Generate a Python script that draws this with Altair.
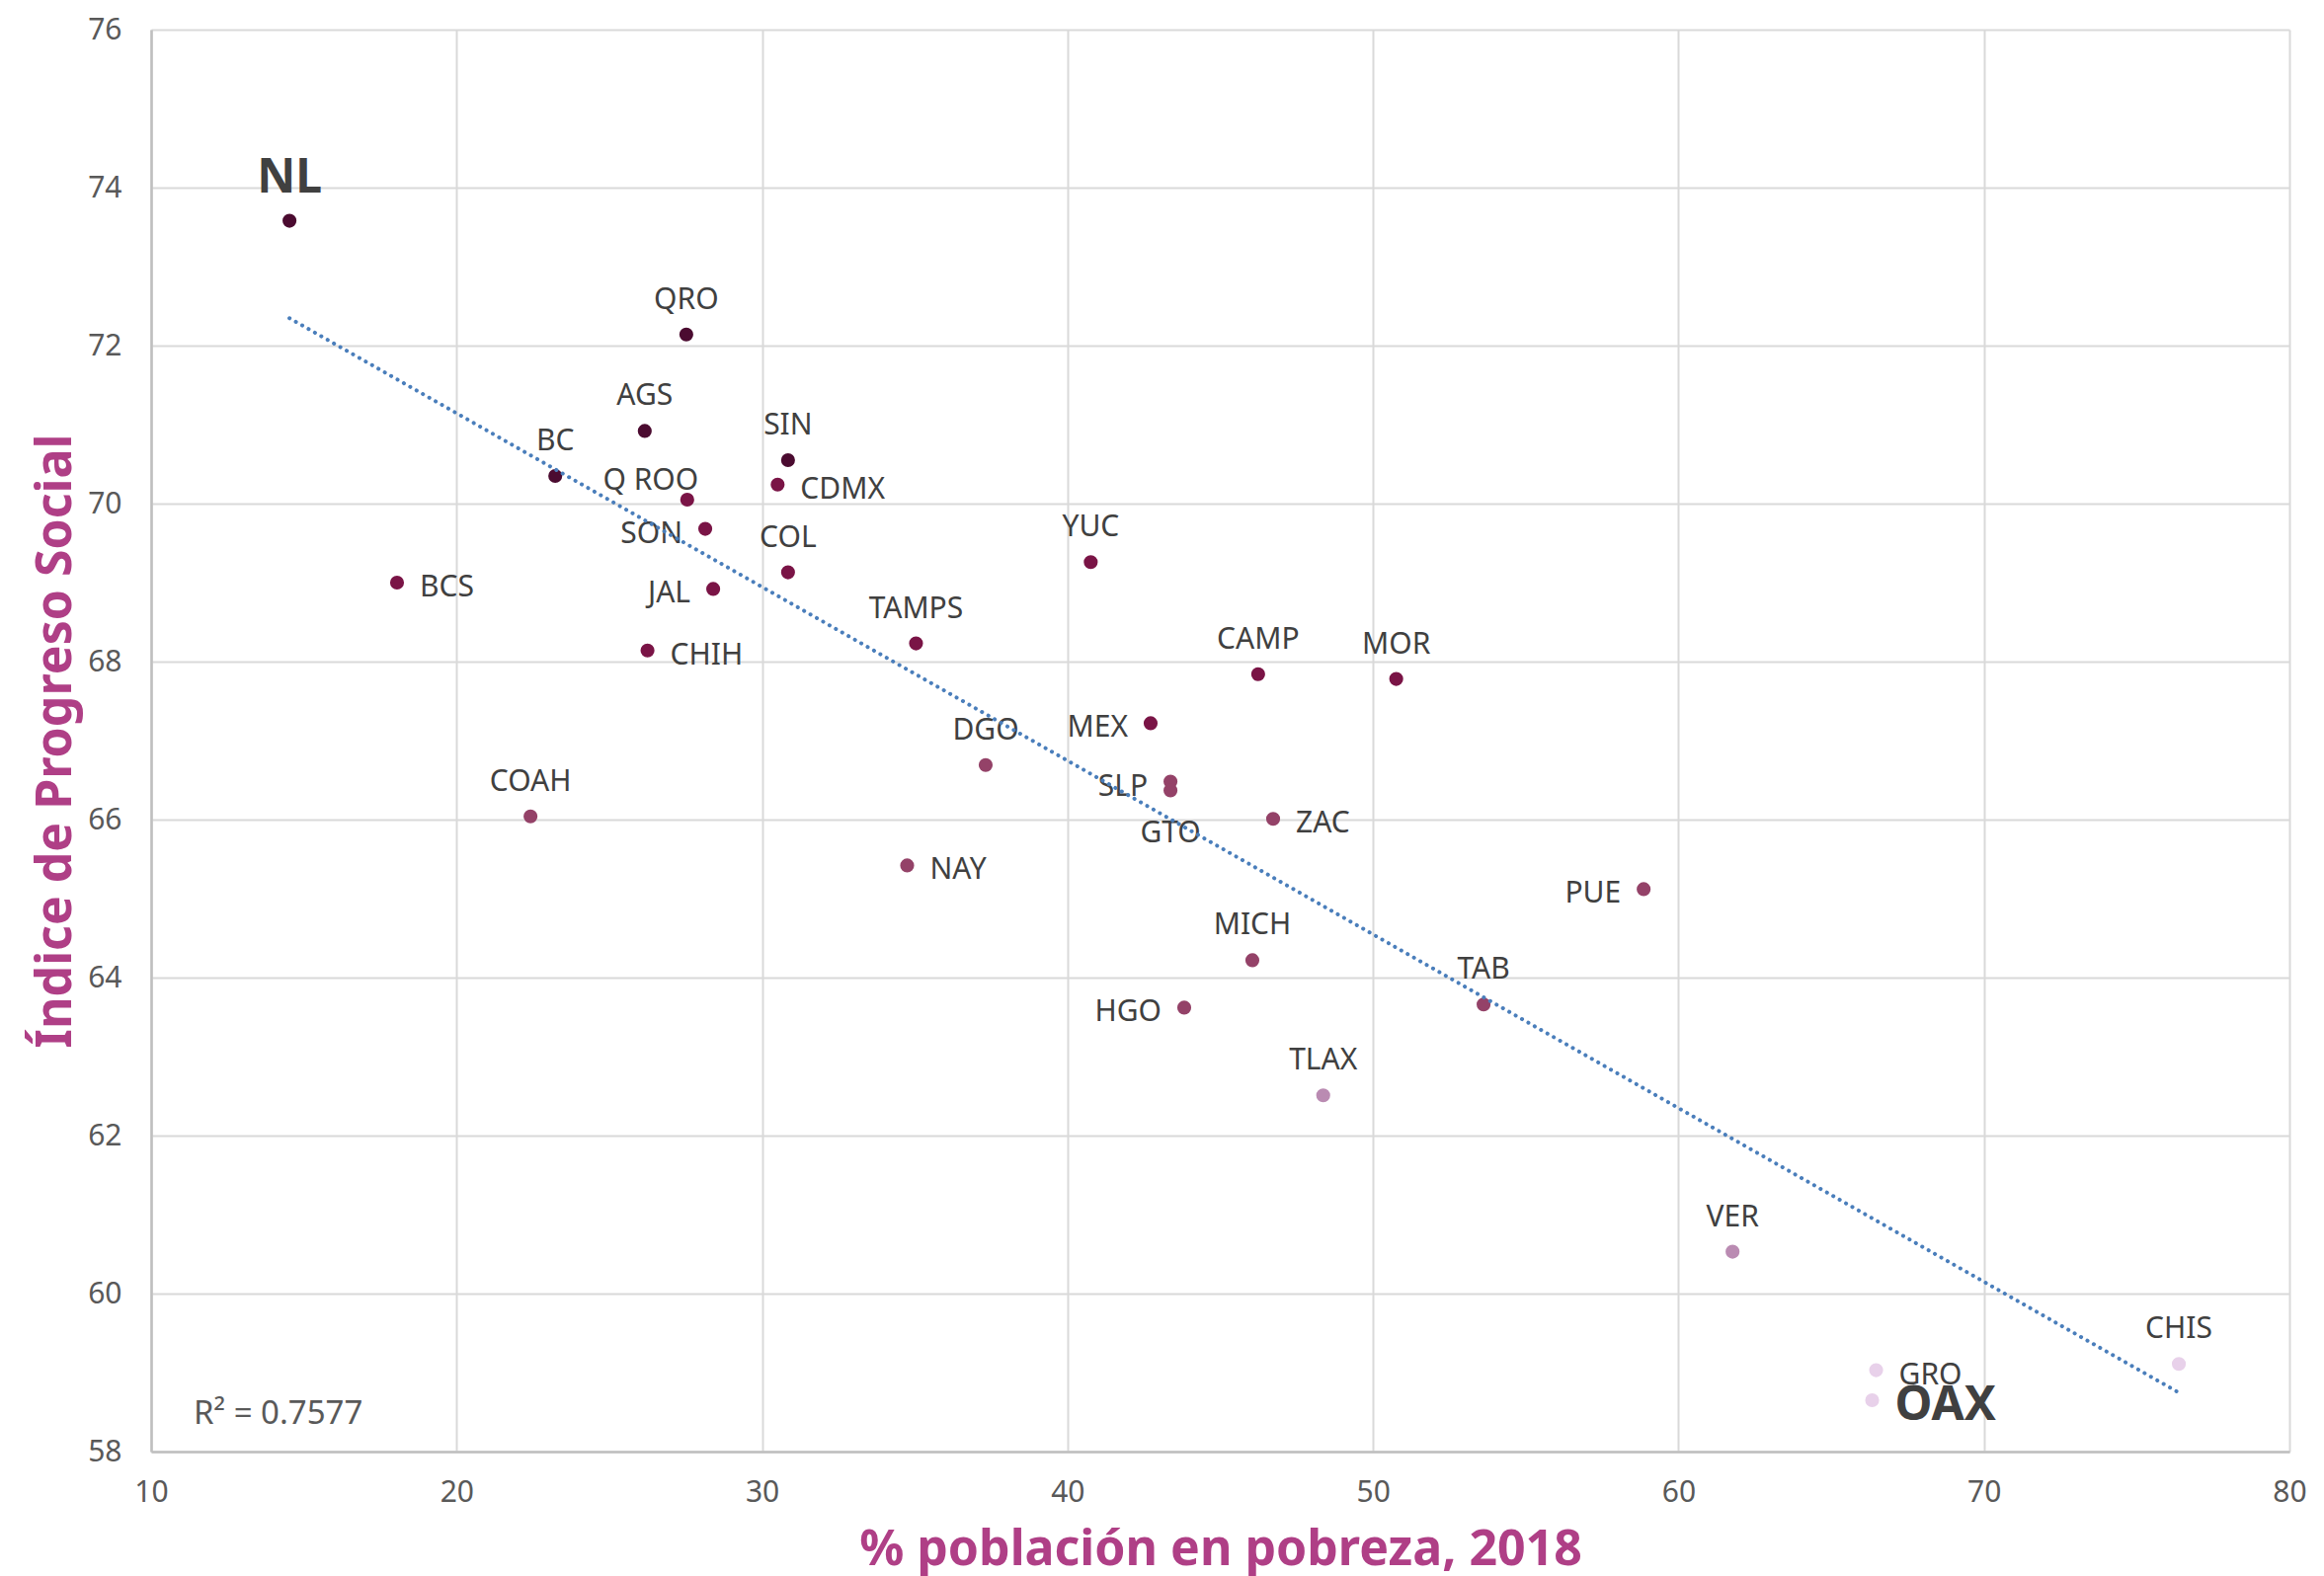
import altair as alt
import pandas as pd

# ---- data ----
estados = ["NL", "QRO", "AGS", "BC", "SIN", "CDMX", "Q ROO", "SON", "COL", "YUC",
           "BCS", "JAL", "CHIH", "TAMPS", "CAMP", "MOR", "MEX", "DGO", "SLP", "GTO",
           "ZAC", "COAH", "NAY", "PUE", "MICH", "TAB", "HGO", "TLAX", "VER", "CHIS",
           "GRO", "OAX"]
pobreza = [14.53, 27.52, 26.16, 23.23, 30.85, 30.51, 27.55, 28.14, 30.85, 40.76,
           18.05, 28.40, 26.25, 35.04, 46.24, 50.76, 42.72, 37.32, 43.37, 43.37,
           46.73, 22.42, 34.75, 58.86, 46.05, 53.62, 43.82, 48.37, 61.77, 76.38,
           66.47, 66.34]
ips = [73.58, 72.14, 70.92, 70.35, 70.55, 70.24, 70.05, 69.68, 69.13, 69.26,
       69.00, 68.92, 68.14, 68.23, 67.84, 67.78, 67.22, 66.69, 66.48, 66.37,
       66.01, 66.04, 65.42, 65.12, 64.22, 63.66, 63.62, 62.51, 60.53, 59.11,
       59.03, 58.65]
nivel = ["Muy alto", "Muy alto", "Muy alto", "Muy alto", "Muy alto",
         "Alto", "Alto", "Alto", "Alto", "Alto", "Alto", "Alto", "Alto", "Alto",
         "Alto", "Alto", "Alto",
         "Medio", "Medio", "Medio", "Medio", "Medio", "Medio", "Medio", "Medio",
         "Medio", "Medio",
         "Bajo", "Bajo",
         "Muy bajo", "Muy bajo", "Muy bajo"]
niveles = ["Muy alto", "Alto", "Medio", "Bajo", "Muy bajo"]
x_ticks = [10, 20, 30, 40, 50, 60, 70, 80]
y_ticks = [58, 60, 62, 64, 66, 68, 70, 72, 74, 76]
r2_texto = "R² = 0.7577"
x_titulo = "% población en pobreza, 2018"
y_titulo = "Índice de Progreso Social"

# ---- label placement (layout, not data) ----
lugar = ["bold_top", "top", "top", "top", "top", "right", "topleft", "left", "top", "top",
         "right", "left", "right", "top", "top", "top", "left", "top", "left", "bottom",
         "right", "top", "right", "left", "top", "top", "left", "top", "top", "top",
         "right", "bold_right"]

colores = ["#4B0B30", "#7A1446", "#944268", "#BA8BB2", "#E8D1EA"]

df = pd.DataFrame({"estado": estados, "pobreza": pobreza, "ips": ips,
                   "nivel": nivel, "lugar": lugar})

FONT = "Noto Sans"

xenc = alt.X("pobreza:Q",
             scale=alt.Scale(domain=[10, 80], nice=False, zero=False),
             axis=alt.Axis(values=x_ticks, format="d", title=x_titulo, titleY=114,
                           titleBaseline="alphabetic", labelFlush=False))
yenc = alt.Y("ips:Q",
             scale=alt.Scale(domain=[58, 76], nice=False, zero=False),
             axis=alt.Axis(values=y_ticks, format="d", title=y_titulo, titleX=-82,
                           titleY=720, titleAngle=-90, titleBaseline="alphabetic",
                           titleAlign="center", labelFlush=False))

base = alt.Chart(df)

puntos = base.mark_circle(size=200, opacity=1).encode(
    x=xenc, y=yenc,
    color=alt.Color("nivel:N", scale=alt.Scale(domain=niveles, range=colores),
                    legend=None),
)

def etiquetas(tipo, dx, dy, align, size=30, weight="normal"):
    return base.transform_filter(alt.datum.lugar == tipo).mark_text(
        dx=dx, dy=dy, align=align, baseline="alphabetic", fontSize=size,
        fontWeight=weight, font=FONT, color="#404040"
    ).encode(x="pobreza:Q", y="ips:Q", text="estado:N")

capas_texto = [
    etiquetas("top", 0, -26, "center"),
    etiquetas("topleft", -37, -10, "center"),
    etiquetas("right", 23, 14, "left"),
    etiquetas("left", -23, 14, "right"),
    etiquetas("bottom", 0, 53, "center"),
    etiquetas("bold_top", 0, -29, "center", size=48, weight="bold"),
    etiquetas("bold_right", 23, 20, "left", size=48, weight="bold"),
]

tendencia = base.transform_regression("pobreza", "ips").mark_line(
    color="#4A7EBB", strokeWidth=4, strokeDash=[0.1, 7.3], strokeCap="round"
).encode(x="pobreza:Q", y="ips:Q")

r2 = alt.Chart(pd.DataFrame({"t": [r2_texto]})).mark_text(
    align="left", baseline="alphabetic", fontSize=33, font=FONT, color="#595959"
).encode(x=alt.value(43), y=alt.value(1412), text="t:N")

chart = alt.layer(puntos, *capas_texto, tendencia, r2).properties(
    width=2165, height=1440,
    autosize=alt.AutoSizeParams(type="none"),
    padding={"left": 145, "top": 22, "right": 20, "bottom": 132},
).configure_view(stroke=None).configure_axis(
    grid=True, gridColor="#D9D9D9", gridWidth=2,
    domainColor="#BFBFBF", domainWidth=2.5,
    ticks=False,
    labelFont=FONT, labelFontSize=30, labelColor="#595959",
    titleFont=FONT, titleFontSize=50, titleFontWeight="bold", titleColor="#AF3F86",
).configure_axisX(labelPadding=26).configure_axisY(labelPadding=30)

chart.save("out.html", embed_options={"renderer": "svg", "actions": False})
